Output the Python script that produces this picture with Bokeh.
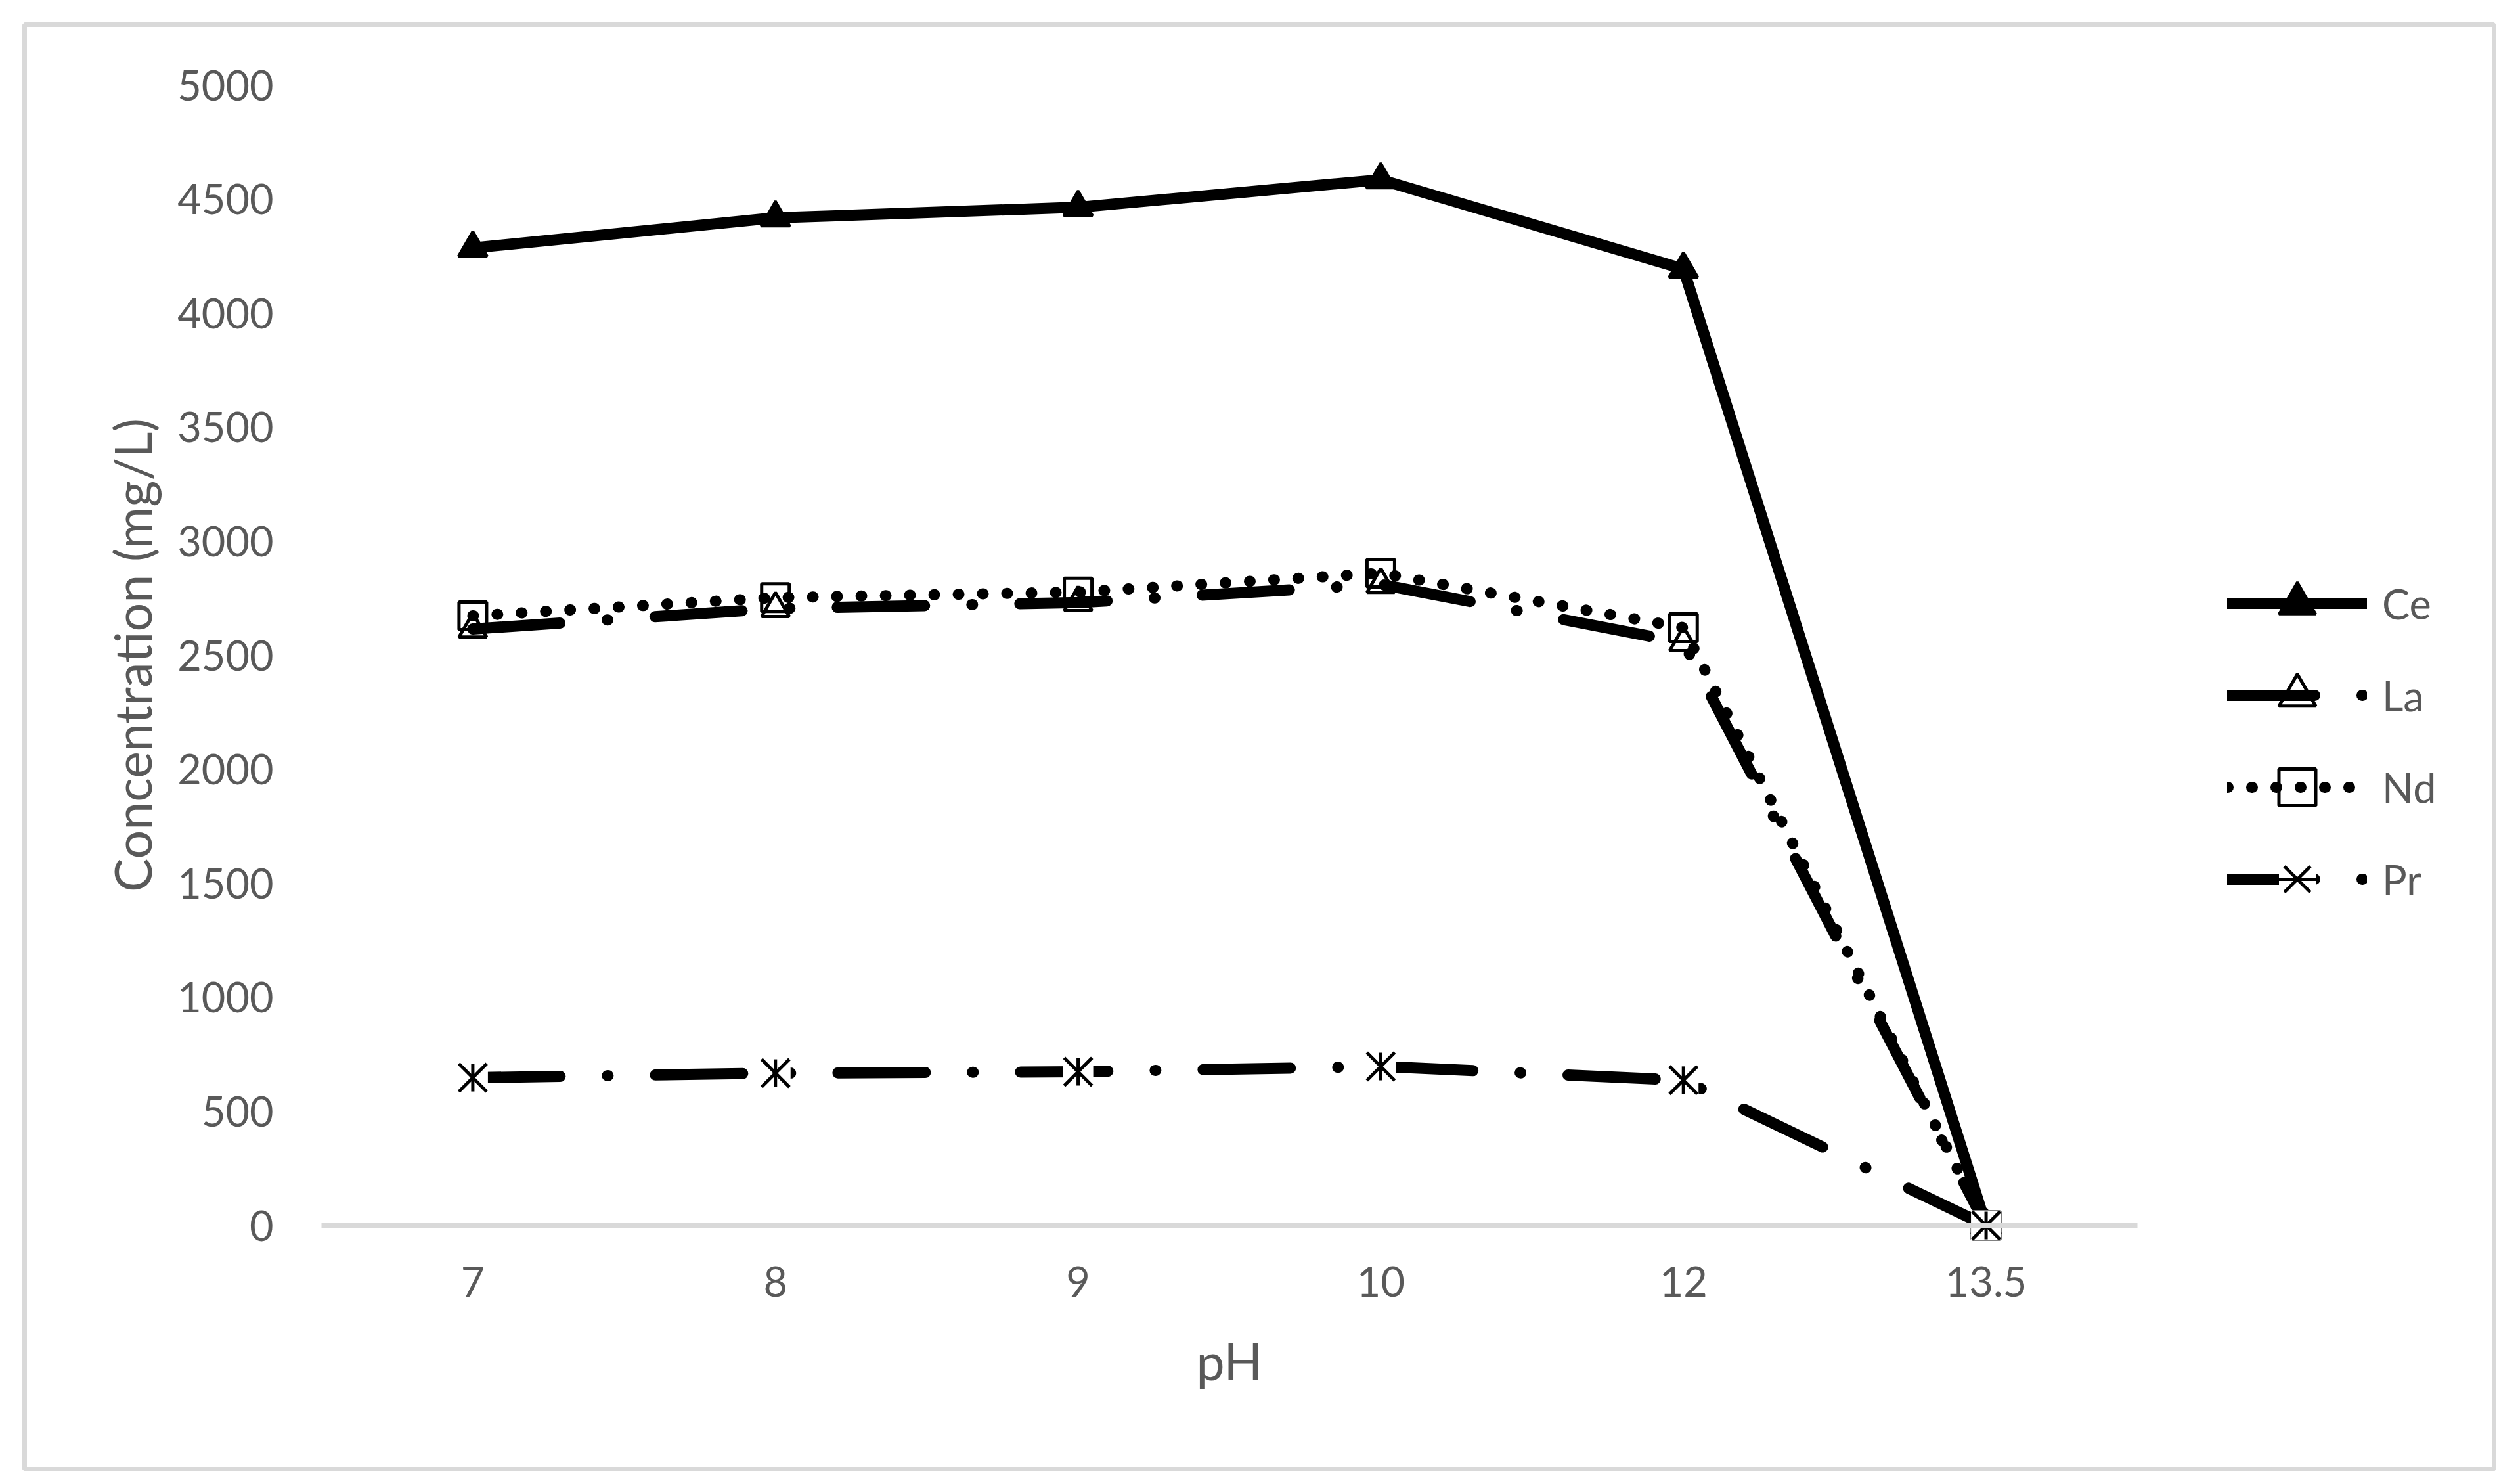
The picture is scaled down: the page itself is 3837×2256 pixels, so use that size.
import math
from bokeh.plotting import figure
from bokeh.models import Range1d, FixedTicker, Legend, LegendItem, ColumnDataSource
from bokeh.embed import file_html
from bokeh.resources import INLINE

# ---- data ----
ph_labels = ["7", "8", "9", "10", "12", "13.5"]
ce = [4286, 4418, 4464, 4585, 4194, 0]
la = [2615, 2705, 2731, 2811, 2555, 0]
nd = [2673, 2753, 2777, 2860, 2621, 0]
pr = [648, 668, 674, 697, 637, 0]
y_ticks = [0, 500, 1000, 1500, 2000, 2500, 3000, 3500, 4000, 4500, 5000]
series_names = ["Ce", "La", "Nd", "Pr"]

# category slots (one band per pH value, points in the middle of each band)
cat_pos = list(range(1, len(ph_labels) + 1))

FONT = "Lato"
TEXT = "#595959"
GRAY = "#d9d9d9"

W, H = 3821, 2240
p = figure(
    x_range=Range1d(-0.48084, 7.67835),
    y_range=Range1d(-1068.5, 5265.0),
    width=W, height=H,
    output_backend="svg", toolbar_location=None,
    min_border_left=37, min_border_right=24, min_border_top=37, min_border_bottom=4,
)
p.outline_line_color = GRAY
p.outline_line_width = 7
p.background_fill_color = "white"
p.border_fill_color = "white"
p.xgrid.visible = False
p.ygrid.visible = False

src = ColumnDataSource(dict(x=cat_pos, ce=ce, la=la, nd=nd, pr=pr))

LW = 17
common = dict(line_color="black", line_width=LW, line_cap="round", line_join="round")

ce_line = p.line("x", "ce", source=src, **common)
ce_mk = p.scatter("x", "ce", source=src, marker="triangle", size=44,
                  fill_color="black", line_color="black", line_width=4)

la_line = p.line("x", "la", source=src, line_dash="133 72 1 72", **common)
la_mk = p.scatter("x", "la", source=src, marker="triangle", size=42,
                  fill_color=None, line_color="black", line_width=5)

nd_line = p.line("x", "nd", source=src, line_dash="1 36", **common)
nd_mk = p.scatter("x", "nd", source=src, marker="square", size=42,
                  fill_color=None, line_color="black", line_width=5)

pr_line = p.line("x", "pr", source=src, line_dash="133 72 1 72", **common)
pr_box = p.scatter("x", "pr", source=src, marker="square", size=46,
                   fill_color="white", line_color=None)
pr_x = p.scatter("x", "pr", source=src, marker="x", size=60,
                 line_color="black", line_width=5)
pr_v = p.scatter("x", "pr", source=src, marker="dash", angle=math.pi / 2, size=42,
                 line_color="black", line_width=5)

# ---- axes ----
xa = p.xaxis[0]
xa.fixed_location = 0
xa.bounds = (0.5, len(ph_labels) + 0.5)
xa.ticker = FixedTicker(ticks=cat_pos)
xa.major_label_overrides = {k: v for k, v in zip(cat_pos, ph_labels)}
xa.axis_line_color = GRAY
xa.axis_line_width = 7
xa.major_tick_line_color = None
xa.minor_tick_line_color = None
xa.major_tick_out = 0
xa.major_tick_in = 0
xa.minor_tick_out = 0
xa.minor_tick_in = 0
xa.major_label_standoff = 62
xa.major_label_text_font = FONT
xa.major_label_text_font_size = "63px"
xa.major_label_text_color = TEXT
xa.axis_label = "pH"
xa.axis_label_text_font = FONT
xa.axis_label_text_font_size = "77px"
xa.axis_label_text_font_style = "normal"
xa.axis_label_text_color = TEXT
xa.axis_label_standoff = 48

ya = p.yaxis[0]
ya.fixed_location = 0.5
ya.bounds = (0, 5000)
ya.ticker = FixedTicker(ticks=y_ticks)
ya.axis_line_color = None
ya.major_tick_line_color = None
ya.minor_tick_line_color = None
ya.major_tick_out = 0
ya.major_tick_in = 0
ya.minor_tick_out = 0
ya.minor_tick_in = 0
ya.major_label_standoff = 73
ya.major_label_text_font = FONT
ya.major_label_text_font_size = "63px"
ya.major_label_text_color = TEXT
ya.axis_label = "Concentration (mg/L)"
ya.axis_label_text_font = FONT
ya.axis_label_text_font_size = "77px"
ya.axis_label_text_font_style = "normal"
ya.axis_label_text_color = TEXT
ya.axis_label_standoff = 20

# ---- legend ----
legend = Legend(
    items=[
        LegendItem(label=series_names[0], renderers=[ce_line, ce_mk]),
        LegendItem(label=series_names[1], renderers=[la_line, la_mk]),
        LegendItem(label=series_names[2], renderers=[nd_line, nd_mk]),
        LegendItem(label=series_names[3], renderers=[pr_line, pr_box, pr_x, pr_v]),
    ],
    location=(3354, 828),
    orientation="vertical",
    glyph_width=213, glyph_height=140, label_height=140,
    spacing=0, padding=0, margin=0, label_standoff=23,
    label_text_font=FONT, label_text_font_size="63px", label_text_color=TEXT,
    border_line_alpha=0, background_fill_alpha=0,
)
p.add_layout(legend, "center")

open("out.html", "w").write(file_html(p, INLINE))
